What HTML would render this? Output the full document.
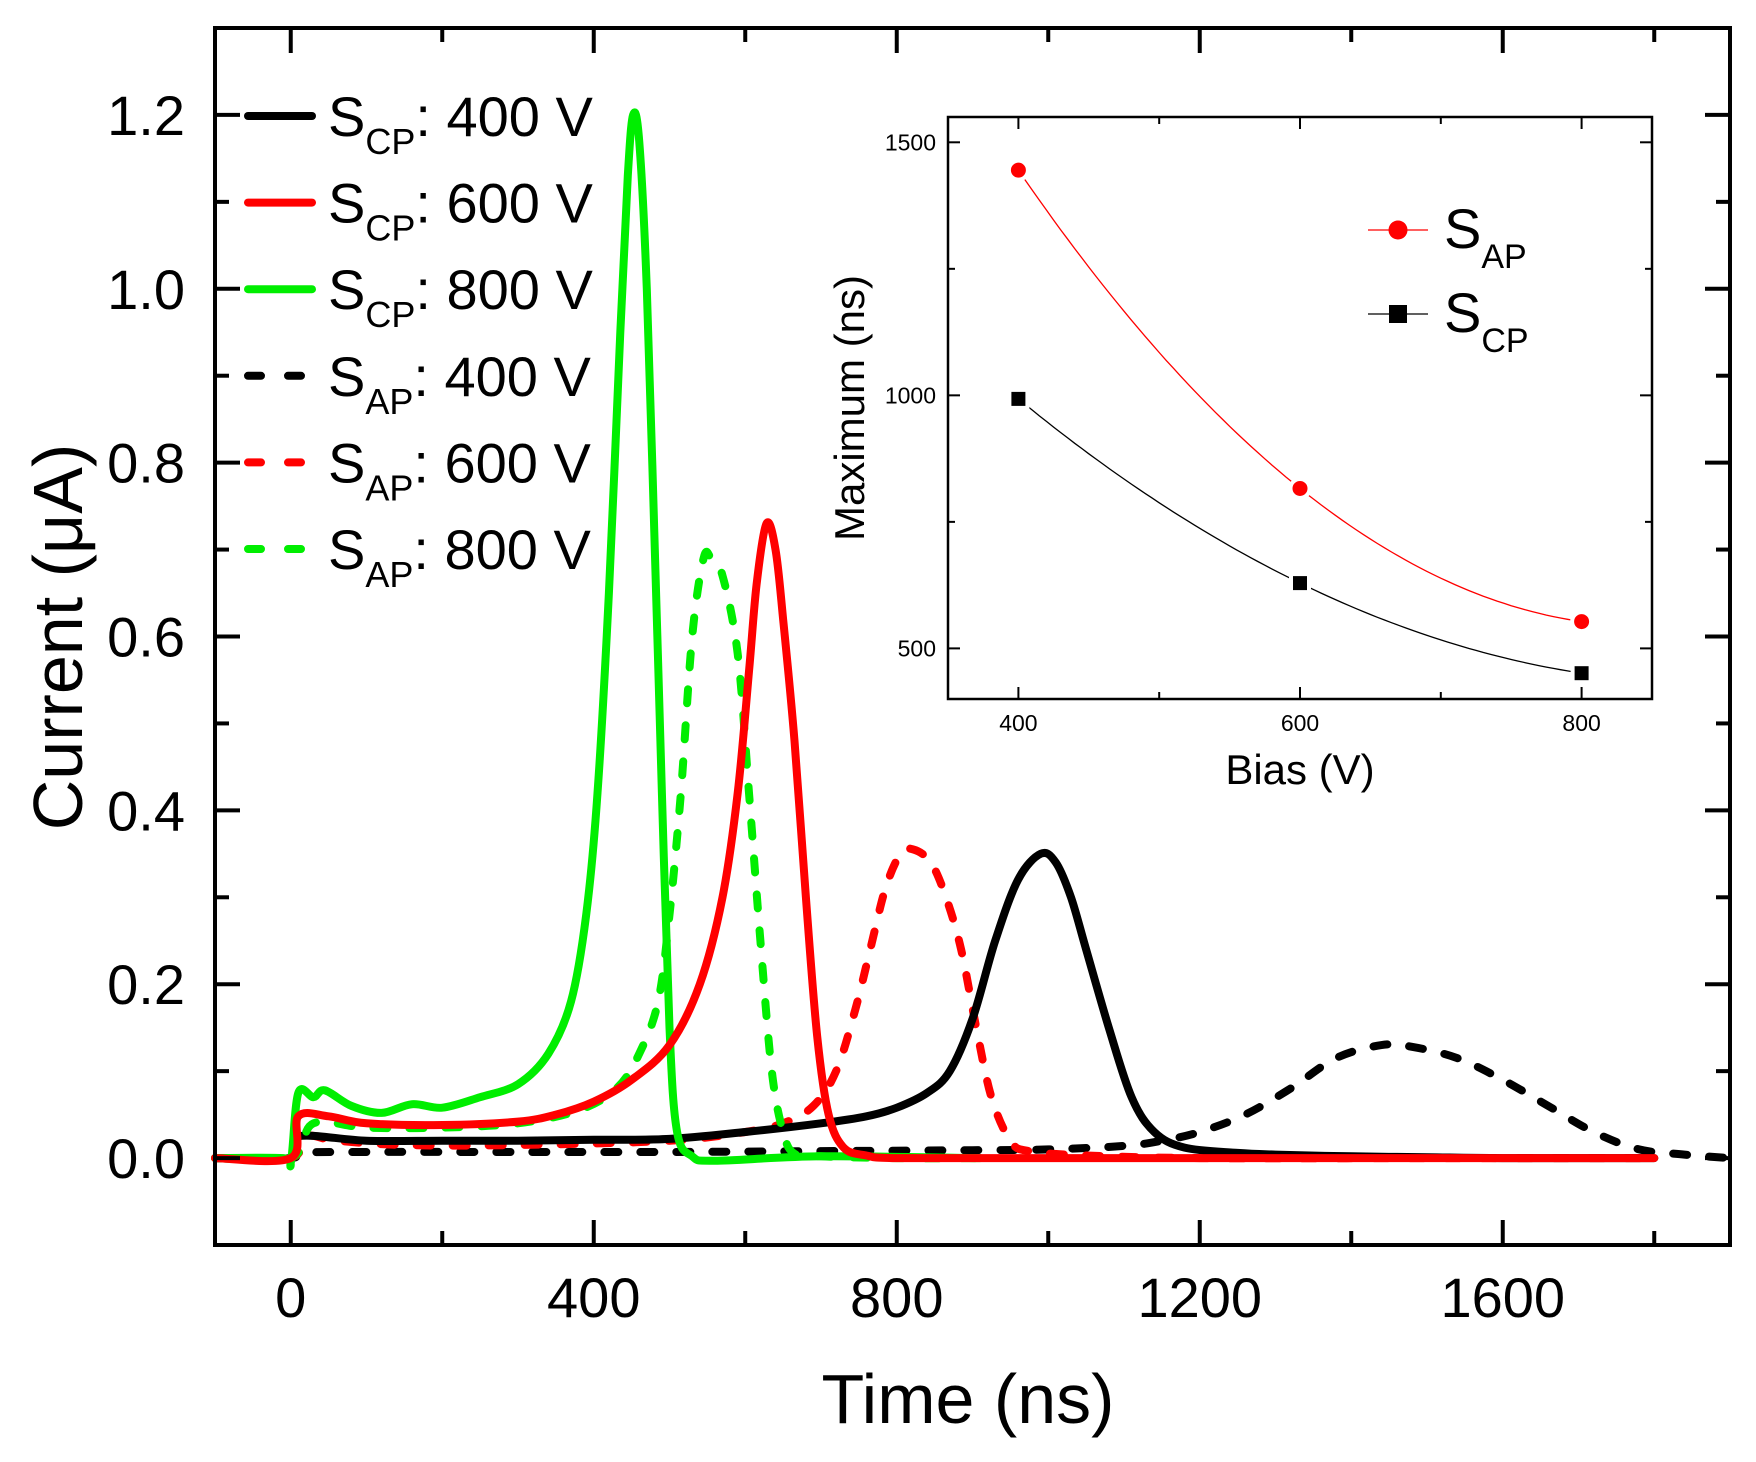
<!DOCTYPE html>
<html><head><meta charset="utf-8"><style>
html,body{margin:0;padding:0;background:#fff;}
svg{display:block;font-family:"Liberation Sans",Arial,sans-serif;}
</style></head><body>
<svg id="chart" width="1756" height="1462" viewBox="0 0 1756 1462" xmlns="http://www.w3.org/2000/svg"></svg>
<script>
// ---------- main chart data ----------
const scp400T = [-100,0,10,100,200,300,400,500,600,700,760,800,840,870,900,930,960,990,1010,1030,1050,1080,1110,1140,1180,1250,1300,1400,1500,1600,1800];
const scp400V = [0,0,0.025,0.02,0.02,0.02,0.021,0.022,0.03,0.04,0.048,0.058,0.075,0.1,0.16,0.25,0.32,0.35,0.34,0.3,0.24,0.15,0.07,0.03,0.012,0.006,0.004,0.002,0.001,0,0];
const scp600T = [-100,0,10,50,100,200,300,350,400,450,500,540,570,590,605,615,628,640,650,665,680,695,710,730,760,800,1000,1400,1800];
const scp600V = [0,0,0.048,0.048,0.04,0.038,0.042,0.05,0.065,0.09,0.13,0.2,0.3,0.42,0.56,0.66,0.73,0.7,0.62,0.48,0.3,0.14,0.05,0.012,0.003,0,0,0,0];
const scp800T = [-100,-10,0,10,30,45,80,120,160,200,250,300,340,370,390,405,420,435,445,452,460,470,480,490,500,510,530,560,700,910];
const scp800V = [0,0,-0.005,0.075,0.07,0.078,0.06,0.052,0.062,0.058,0.07,0.085,0.12,0.18,0.28,0.42,0.65,0.95,1.13,1.2,1.17,1.0,0.72,0.42,0.15,0.03,0.002,-0.003,0.002,0];
const sap400T = [-100,0,10,100,300,500,700,900,1000,1100,1150,1200,1260,1320,1380,1440,1480,1540,1600,1660,1720,1780,1840,1900];
const sap400V = [0,0,0.006,0.007,0.007,0.007,0.008,0.009,0.01,0.014,0.02,0.03,0.05,0.08,0.115,0.13,0.128,0.115,0.09,0.06,0.03,0.01,0.004,0];
const sap600T = [-100,0,20,60,150,300,500,600,650,690,720,745,765,785,805,822,845,865,885,905,925,950,975,1050,1200,1500,1800];
const sap600V = [0,0,0.025,0.02,0.015,0.015,0.02,0.03,0.04,0.06,0.1,0.17,0.24,0.31,0.35,0.355,0.34,0.3,0.24,0.15,0.07,0.02,0.008,0.003,0,0,0];
const sap800T = [-100,0,30,100,200,300,380,430,460,485,500,515,530,545,555,570,590,605,620,635,650,665,700,800,910];
const sap800V = [0,0,0.04,0.035,0.035,0.04,0.055,0.08,0.12,0.18,0.28,0.42,0.6,0.69,0.69,0.67,0.58,0.42,0.25,0.1,0.03,0.005,0.002,0,0];
const xTicksMajor = [0,400,800,1200,1600];
const xTickLabels = ["0","400","800","1200","1600"];
const yTicksMajor = [0,0.2,0.4,0.6,0.8,1.0,1.2];
const yTickLabels = ["0.0","0.2","0.4","0.6","0.8","1.0","1.2"];
// ---------- inset data ----------
const biasV = [400,600,800];
const sapMax = [1445,816,553];
const scpMax = [993,629,451];
const insetXTicks = [400,600,800];
const insetXLabels = ["400","600","800"];
const insetYTicks = [500,1000,1500];
const insetYLabels = ["500","1000","1500"];

const NS="http://www.w3.org/2000/svg";
const svg=document.getElementById('chart');
function el(tag,attrs,parent){const e=document.createElementNS(NS,tag);for(const k in attrs)e.setAttribute(k,attrs[k]);(parent||svg).appendChild(e);return e;}

const L=215,R=1730,T=28,B=1245;
const xMin=-100,xMax=1900,yMin=-0.1,yMax=1.3;
const X=t=>L+(t-xMin)/(xMax-xMin)*(R-L);
const Y=v=>B-(v-yMin)/(yMax-yMin)*(B-T);

function smoothPath(pts){
  let d='M'+pts[0][0].toFixed(1)+','+pts[0][1].toFixed(1);
  for(let i=0;i<pts.length-1;i++){
    const p0=pts[Math.max(0,i-1)],p1=pts[i],p2=pts[i+1],p3=pts[Math.min(pts.length-1,i+2)];
    const c1x=p1[0]+(p2[0]-p0[0])/6,c1y=p1[1]+(p2[1]-p0[1])/6;
    const c2x=p2[0]-(p3[0]-p1[0])/6,c2y=p2[1]-(p3[1]-p1[1])/6;
    d+='C'+c1x.toFixed(1)+','+c1y.toFixed(1)+' '+c2x.toFixed(1)+','+c2y.toFixed(1)+' '+p2[0].toFixed(1)+','+p2[1].toFixed(1);
  }
  return d;
}

const gSeries=el('g',{});


function drawSeries(ts,vs,color,dashed,name){
  const pts=ts.map((t,i)=>[X(t),Y(vs[i])]);
  const p=el('path',{d:smoothPath(pts),fill:'none',stroke:color,'stroke-width':8,'stroke-linejoin':'round','stroke-linecap':'round'},gSeries);
  if(dashed)p.setAttribute('stroke-dasharray','14 22');
  
  
}
drawSeries(sap400T,sap400V,'#000',true,'series-sap-400v');
drawSeries(sap600T,sap600V,'#ff0000',true,'series-sap-600v');
drawSeries(scp400T,scp400V,'#000',false,'series-scp-400v');
drawSeries(sap800T,sap800V,'#00ee00',true,'series-sap-800v');
drawSeries(scp800T,scp800V,'#00ee00',false,'series-scp-800v');
drawSeries(scp600T,scp600V,'#ff0000',false,'series-scp-600v');

const frame=el('rect',{x:L,y:T,width:R-L,height:B-T,fill:'none',stroke:'#000','stroke-width':4});


const gT=el('g',{stroke:'#000','stroke-width':4});


for(let t=0;t<=1800;t+=200){const maj=t%400===0;const len=maj?25:14;
  el('line',{x1:X(t),x2:X(t),y1:B,y2:B-len},gT);el('line',{x1:X(t),x2:X(t),y1:T,y2:T+len},gT);}
for(let k=0;k<=12;k++){const v=k/10;const maj=k%2===0;const len=maj?25:14;
  el('line',{x1:L,x2:L+len,y1:Y(v),y2:Y(v)},gT);el('line',{x1:R,x2:R-len,y1:Y(v),y2:Y(v)},gT);}
xTicksMajor.forEach((t,i)=>{const tx=el('text',{x:X(t),y:1317,'font-size':56,'text-anchor':'middle'});tx.textContent=xTickLabels[i];
  });
yTicksMajor.forEach((v,i)=>{const tx=el('text',{x:185,y:Y(v)+20,'font-size':56,'text-anchor':'end'});tx.textContent=yTickLabels[i];
  });
const xt=el('text',{x:968,y:1423,'font-size':70,'text-anchor':'middle'});xt.textContent='Time (ns)';

const yt=el('text',{x:0,y:0,'font-size':70,'text-anchor':'middle',transform:'translate(82,637) rotate(-90)'});yt.textContent='Current (\u03bcA)';


const legItems=[['CP','400','#000',false],['CP','600','#ff0000',false],['CP','800','#00ee00',false],['AP','400','#000',true],['AP','600','#ff0000',true],['AP','800','#00ee00',true]];
legItems.forEach((it,i)=>{
  const y=116+i*86.6;
  const g=el('g',{});
  
  
  const ln=el('line',{x1:248,x2:312,y1:y,y2:y,stroke:it[2],'stroke-width':8,'stroke-linecap':'round'},g);
  if(it[3]){ln.setAttribute('x2','304');ln.setAttribute('stroke-dasharray','13 27');}
  const tx=el('text',{x:328,y:y+20,'font-size':56},g);
  tx.innerHTML='S<tspan font-size="36" dy="18">'+it[0]+'</tspan><tspan dy="-18">: '+it[1]+' V</tspan>';
});

// inset
const IL=948,IR=1652,IT=117,IB=699;
const IX=v=>IL+(v-350)/(850-350)*(IR-IL);
const IY=v=>IB-(v-400)/(1550-400)*(IB-IT);
const gi=el('g',{});


el('rect',{x:IL,y:IT,width:IR-IL,height:IB-IT,fill:'#fff',stroke:'#000','stroke-width':2.5},gi);
for(let v=400;v<=800;v+=100){const len=v%200===0?12:7;el('line',{x1:IX(v),x2:IX(v),y1:IB,y2:IB-len,stroke:'#000','stroke-width':2},gi);el('line',{x1:IX(v),x2:IX(v),y1:IT,y2:IT+len,stroke:'#000','stroke-width':2},gi);}
for(let v=500;v<=1500;v+=250){const len=v%500===0?12:7;el('line',{x1:IL,x2:IL+len,y1:IY(v),y2:IY(v),stroke:'#000','stroke-width':2},gi);el('line',{x1:IR,x2:IR-len,y1:IY(v),y2:IY(v),stroke:'#000','stroke-width':2},gi);}
insetXTicks.forEach((v,i)=>{const t=el('text',{x:IX(v),y:IB+32,'font-size':23,'text-anchor':'middle'},gi);t.textContent=insetXLabels[i];
  });
insetYTicks.forEach((v,i)=>{const t=el('text',{x:IL-12,y:IY(v)+8,'font-size':23,'text-anchor':'end'},gi);t.textContent=insetYLabels[i];
  });
const ixt=el('text',{x:1300,y:784,'font-size':42,'text-anchor':'middle'},gi);ixt.textContent='Bias (V)';

const iyt=el('text',{x:0,y:0,'font-size':42,'text-anchor':'middle',transform:'translate(864,408) rotate(-90)'},gi);iyt.textContent='Maximum (ns)';

function lagr(xs,ys,x){let s=0;for(let i=0;i<xs.length;i++){let p=ys[i];for(let j=0;j<xs.length;j++)if(j!==i)p*=(x-xs[j])/(xs[i]-xs[j]);s+=p;}return s;}
function insetCurve(ys,color,name){
  let d='';for(let k=0;k<=80;k++){const x=biasV[0]+(biasV[biasV.length-1]-biasV[0])*k/80;d+=(k?'L':'M')+IX(x).toFixed(1)+','+IY(lagr(biasV,ys,x)).toFixed(1);}
  const p=el('path',{d:d,fill:'none',stroke:color,'stroke-width':1.3},gi);
  
}
insetCurve(sapMax,'#ff0000','inset-sap-curve');
insetCurve(scpMax,'#000','inset-scp-curve');
biasV.forEach((b,i)=>{
  const c=el('circle',{cx:IX(b),cy:IY(sapMax[i]),r:9.5,fill:'#ff0000',stroke:'#fff','stroke-width':4},gi);
  
  const s=el('rect',{x:IX(b)-9,y:IY(scpMax[i])-9,width:18,height:18,fill:'#000',stroke:'#fff','stroke-width':4},gi);
  
});
[['AP','#ff0000',230,'circle'],['CP','#000',314,'square']].forEach(it=>{
  const g=el('g',{},gi);
  
  
  const y=it[2];
  el('line',{x1:1368,x2:1428,y1:y,y2:y,stroke:it[1],'stroke-width':1.3},g);
  if(it[3]==='circle')el('circle',{cx:1398,cy:y,r:9.5,fill:it[1]},g);
  else el('rect',{x:1389,y:y-9,width:18,height:18,fill:it[1]},g);
  const t=el('text',{x:1444,y:y+18,'font-size':56},g);
  t.innerHTML='S<tspan font-size="34" dy="20">'+it[0]+'</tspan>';
});
</script>
</body></html>
